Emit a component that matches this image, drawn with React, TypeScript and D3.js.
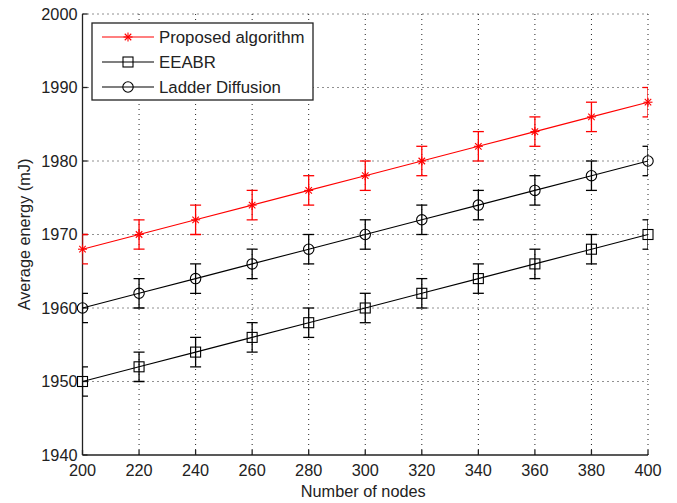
import React from "react";
import * as d3 from "d3";

const nodes = [200, 220, 240, 260, 280, 300, 320, 340, 360, 380, 400];
const proposed = [1968, 1970, 1972, 1974, 1976, 1978, 1980, 1982, 1984, 1986, 1988];
const eeabr = [1950, 1952, 1954, 1956, 1958, 1960, 1962, 1964, 1966, 1968, 1970];
const ladder = [1960, 1962, 1964, 1966, 1968, 1970, 1972, 1974, 1976, 1978, 1980];
const errProposed = [2, 2, 2, 2, 2, 2, 2, 2, 2, 2, 2];
const errEeabr = [2, 2, 2, 2, 2, 2, 2, 2, 2, 2, 2];
const errLadder = [2, 2, 2, 2, 2, 2, 2, 2, 2, 2, 2];
const xTicks = [200, 220, 240, 260, 280, 300, 320, 340, 360, 380, 400];
const yTicks = [1940, 1950, 1960, 1970, 1980, 1990, 2000];
const seriesNames = ["Proposed algorithm", "EEABR", "Ladder Diffusion"];

const W = 677;
const H = 503;
const FONT = "'Liberation Sans', Arial, sans-serif";

type Series = { name: string; values: number[]; err: number[]; color: string; marker: string };

function Marker({ type, x, y, color }: { type: string; x: number; y: number; color: string }) {
  if (type === "star") {
    const r = 4.5;
    const d = r * 0.72;
    return (
      <g stroke={color} strokeWidth={1.1}>
        <line x1={x - r} y1={y} x2={x + r} y2={y} />
        <line x1={x} y1={y - r} x2={x} y2={y + r} />
        <line x1={x - d} y1={y - d} x2={x + d} y2={y + d} />
        <line x1={x - d} y1={y + d} x2={x + d} y2={y - d} />
      </g>
    );
  }
  if (type === "square") {
    const s = 5;
    return <rect x={x - s} y={y - s} width={2 * s} height={2 * s} fill="none" stroke={color} strokeWidth={1.1} />;
  }
  return <circle cx={x} cy={y} r={5.2} fill="none" stroke={color} strokeWidth={1.1} />;
}

export default function App() {
  const left = 82.5, right = 648, top = 14, bottom = 455;
  const x = d3.scaleLinear().domain([200, 400]).range([left, right]);
  const y = d3.scaleLinear().domain([1940, 2000]).range([bottom, top]);

  const series: Series[] = [
    { name: seriesNames[0], values: proposed, err: errProposed, color: "#ff0000", marker: "star" },
    { name: seriesNames[1], values: eeabr, err: errEeabr, color: "#000000", marker: "square" },
    { name: seriesNames[2], values: ladder, err: errLadder, color: "#000000", marker: "circle" },
  ];

  const line = d3.line<number>().x((_, i) => x(nodes[i])).y((v) => y(v));
  const cap = 5.5;

  const legX = 92, legY = 23, legW = 221, legH = 77;
  const legRows = [37, 62, 87];

  return (
    <svg width={W} height={H} style={{ position: "absolute", left: 0, top: 0, background: "#fff" }} fontFamily={FONT}>
      <defs>
        <clipPath id="plotclip">
          <rect x={left} y={top - 20} width={right - left} height={bottom - top + 40} />
        </clipPath>
      </defs>
      <rect x={0} y={0} width={W} height={H} fill="#fff" />
      {/* grid */}
      <g stroke="#222" strokeWidth={1} strokeDasharray="1,4">
        {xTicks.slice(1).map((t) => (
          <line key={"gx" + t} x1={x(t)} x2={x(t)} y1={bottom} y2={top} />
        ))}
        {yTicks.slice(1).map((t) => (
          <line key={"gy" + t} x1={left} x2={right} y1={y(t)} y2={y(t)} />
        ))}
      </g>
      {/* axes */}
      <g stroke="#222" strokeWidth={1.3}>
        <line x1={left} x2={left} y1={top} y2={bottom} />
        <line x1={left} x2={right} y1={bottom} y2={bottom} />
        {xTicks.map((t) => (
          <line key={"tx" + t} x1={x(t)} x2={x(t)} y1={bottom} y2={bottom - 5} />
        ))}
        {yTicks.map((t) => (
          <line key={"ty" + t} x1={left} x2={left + 5} y1={y(t)} y2={y(t)} />
        ))}
      </g>
      <g fontSize={16.3} fill="#222">
        {xTicks.map((t) => (
          <text key={"lx" + t} x={x(t)} y={bottom + 21} textAnchor="middle">{t}</text>
        ))}
        {yTicks.map((t) => (
          <text key={"ly" + t} x={left - 5} y={y(t) + 5.8} textAnchor="end">{t}</text>
        ))}
      </g>
      <text x={x(300) - 2} y={497} textAnchor="middle" fontSize={16.3} fill="#222">Number of nodes</text>
      <text transform={`translate(30,${(top + bottom) / 2}) rotate(-90)`} textAnchor="middle" fontSize={16.3} fill="#222">Average energy (mJ)</text>
      {/* series */}
      {series.map((s) => (
        <g key={s.name}>
          <path d={line(s.values) || ""} fill="none" stroke={s.color} strokeWidth={1.1} />
          <g clipPath="url(#plotclip)" stroke={s.color} strokeWidth={1.3}>
            {s.values.map((v, i) => {
              const cx = x(nodes[i]);
              const yt = y(v + s.err[i]);
              const yb = y(v - s.err[i]);
              return (
                <g key={i}>
                  <line x1={cx} x2={cx} y1={yt} y2={yb} />
                  <line x1={cx - cap} x2={cx + cap} y1={yt} y2={yt} />
                  <line x1={cx - cap} x2={cx + cap} y1={yb} y2={yb} />
                </g>
              );
            })}
          </g>
          {s.values.map((v, i) => (
            <Marker key={"m" + i} type={s.marker} x={x(nodes[i])} y={y(v)} color={s.color} />
          ))}
        </g>
      ))}
      {/* legend */}
      <rect x={legX} y={legY} width={legW} height={legH} fill="#fff" stroke="#222" strokeWidth={1.3} />
      {series.map((s, i) => (
        <g key={"leg" + i}>
          <line x1={102} x2={154} y1={legRows[i]} y2={legRows[i]} stroke={s.color} strokeWidth={1.1} />
          <Marker type={s.marker} x={128} y={legRows[i]} color={s.color} />
          <text x={159} y={legRows[i] + 6} fontSize={16.8} fill="#222">{s.name}</text>
        </g>
      ))}
    </svg>
  );
}
